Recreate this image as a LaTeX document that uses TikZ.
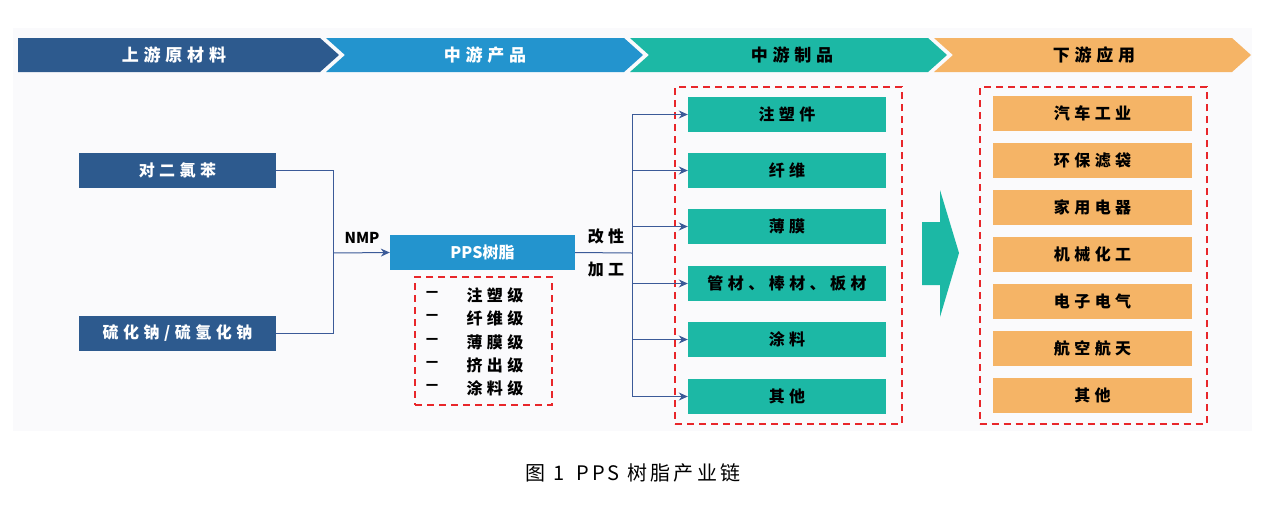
\documentclass[tikz,border=0pt]{standalone}
\usepackage{fontspec}
\setmainfont{Noto Sans CJK SC}
\newfontfamily\cjk[LetterSpace=28]{Noto Sans CJK SC}
\newfontfamily\capfont[LetterSpace=16]{Noto Sans CJK SC}
\usetikzlibrary{arrows.meta}
\definecolor{cdark}{HTML}{2D5A8E}
\definecolor{clight}{HTML}{2394CE}
\definecolor{cteal}{HTML}{1CB8A5}
\definecolor{corange}{HTML}{F5B466}
\definecolor{cred}{HTML}{E8262A}
\definecolor{clink}{HTML}{3B5A98}
\definecolor{cpanel}{HTML}{FAFAFC}
\tikzset{
  conn/.style={draw=clink, line width=1pt},
  arr/.style={conn, -{Stealth[length=9pt,width=8pt]}},
  band/.style={font=\cjk\bfseries\fontsize{17}{19}\selectfont, inner sep=0pt},
  boxfont/.style={font=\cjk\bfseries\fontsize{16}{18}\selectfont},
  rawbox/.style={boxfont, fill=cdark, minimum width=197pt, minimum height=35pt, inner sep=0pt, text=white},
  ppsbox/.style={fill=clight, minimum width=185pt, minimum height=35pt, inner sep=0pt, text=white, font=\bfseries\fontsize{16}{18}\selectfont},
  midbox/.style={boxfont, fill=cteal, minimum width=198pt, minimum height=35pt, inner sep=0pt, text=black},
  appbox/.style={boxfont, fill=corange, minimum width=199pt, minimum height=35pt, inner sep=0pt, text=black},
  reddash/.style={draw=cred, line width=2pt, dash pattern=on 7pt off 5pt},
  listtxt/.style={boxfont, inner sep=0pt},
  sidetxt/.style={boxfont, inner sep=0pt},
}
\begin{document}
\begin{tikzpicture}[x=1pt,y=-1pt]
\useasboundingbox (0,0) rectangle (1265,507);
\fill[white] (0,0) rectangle (1265,507);
\fill[cpanel] (13,28) rectangle (1252,431);

% banner chevrons
\fill[cdark]   (18,38) -- (320,38) -- (339,55) -- (320,72) -- (18,72) -- cycle;
\fill[clight]  (326,38) -- (624,38) -- (643,55) -- (624,72) -- (326,72) -- (345,55) -- cycle;
\fill[cteal]   (630,38) -- (928,38) -- (947,55) -- (928,72) -- (630,72) -- (649,55) -- cycle;
\fill[corange] (934,38) -- (1232,38) -- (1251,55) -- (1232,72) -- (934,72) -- (953,55) -- cycle;
\node[band, text=white] (b1) at (174,55) {上游原材料};
\node[band, text=white] (b2) at (485,55) {中游产品};
\node[band, text=black] (b3) at (792,55) {中游制品};
\node[band, text=black] (b4) at (1094,55) {下游应用};

% raw materials
\node[rawbox] (r1) at (177.5,170.5) {对二氯苯};
\node[rawbox] (r2) at (177.5,333.5) {硫化钠/硫氢化钠};
\coordinate (j1) at (333,253);
\draw[conn] (r1.east) -| (j1);
\draw[conn] (r2.east) -| (j1);

% PPS
\node[ppsbox] (pps) at (482.5,252.5) {PPS树脂};
\draw[arr] (j1) -- (pps.west);
\node[font=\bfseries\fontsize{15}{17}\selectfont, inner sep=0pt] (nmp) at (362,238) {NMP};

% grades list
\node[reddash, minimum width=137pt, minimum height=128pt, inner sep=0pt] (grades) at (483.5,341) {};
\foreach \i/\t/\y in {1/注塑级/295,2/纤维级/318,3/薄膜级/342,4/挤出级/365,5/涂料级/388}{
  \node[listtxt] (dash\i) at (432,\y) {－};
  \node[listtxt] (g\i) at (495,\y) {\t};
}

% processing
\coordinate (j2) at (632,253);
\draw[conn] (pps.east) -- (j2);
\node[sidetxt] (gx) at (606,236) {改性};
\node[sidetxt] (jg) at (606,270) {加工};

% mid products
\node[reddash, minimum width=227pt, minimum height=337pt, inner sep=0pt] (midframe) at (788.5,255.5) {};
\foreach \i/\t/\y in {1/注塑件/114.5,2/纤维/170.5,3/薄膜/226.5,4/管材、棒材、板材/283.5,5/涂料/339.5,6/其他/396.5}{
  \node[midbox] (m\i) at (787,\y) {\t};
  \draw[arr] (j2) |- (m\i.west);
}

% big arrow
\fill[cteal] (922,222) -- (940,222) -- (940,190) -- (959,253) -- (940,317) -- (940,285) -- (922,285) -- cycle;

% applications
\node[reddash, minimum width=227pt, minimum height=337pt, inner sep=0pt] (appframe) at (1093,255.5) {};
\foreach \i/\t/\y in {1/汽车工业/113.5,2/环保滤袋/160.5,3/家用电器/207.5,4/机械化工/254.5,5/电子电气/301.5,6/航空航天/348.5,7/其他/395.5}{
  \node[appbox] (a\i) at (1092.5,\y) {\t};
}

% caption
\node[font=\capfont\fontsize{20}{22}\selectfont, inner sep=0pt] (cap) at (633,473) {图 1\hspace{0.6em}PPS 树脂产业链};
\end{tikzpicture}
\end{document}
